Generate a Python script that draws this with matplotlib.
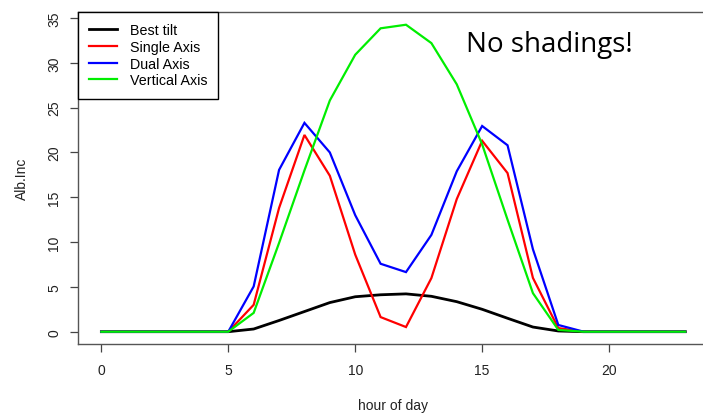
import matplotlib
matplotlib.use("Agg")
import matplotlib.pyplot as plt

hours = list(range(24))
best_tilt = [0, 0, 0, 0, 0, 0, 0.3, 1.25, 2.25, 3.25, 3.9, 4.12, 4.22, 3.95, 3.35, 2.5, 1.5, 0.52, 0.08, 0, 0, 0, 0, 0]
single_axis = [0, 0, 0, 0, 0, 0, 3.0, 13.8, 21.95, 17.4, 8.6, 1.63, 0.52, 5.98, 14.8, 21.3, 17.7, 6.0, 0.4, 0, 0, 0, 0, 0]
dual_axis = [0, 0, 0, 0, 0, 0, 5.05, 18.05, 23.3, 20.0, 13.0, 7.58, 6.65, 10.8, 17.9, 22.95, 20.8, 9.2, 0.75, 0, 0, 0, 0, 0]
vertical_axis = [0, 0, 0, 0, 0, 0, 2.1, 9.9, 18.0, 25.8, 30.9, 33.85, 34.25, 32.2, 27.6, 20.9, 12.5, 4.3, 0.2, 0, 0, 0, 0, 0]

series = [("Best tilt", best_tilt, "black", 2.0),
          ("Single Axis", single_axis, "#ff0000", 1.6),
          ("Dual Axis", dual_axis, "#0000ff", 1.6),
          ("Vertical Axis", vertical_axis, "#00ee00", 1.6)]

xticks = [0, 5, 10, 15, 20]
yticks = [0, 5, 10, 15, 20, 25, 30, 35]

plt.rcParams['font.family'] = ['Liberation Sans', 'DejaVu Sans']

W, H = 703, 414
fig = plt.figure(figsize=(W / 100, H / 100), dpi=100)
ax = fig.add_axes([78 / W, 1 - 345 / H, (708.6 - 78) / W, 332 / H])

for name, vals, col, lw in series:
    ax.plot(hours, vals, color=col, lw=lw, label=name, solid_joinstyle='miter')

ax.set_xlim(-0.92, 23.92)
ax.set_ylim(-1.372, 35.67)
ax.set_xticks(xticks)
ax.set_yticks(yticks)
ax.set_xticklabels([str(t) for t in xticks], fontsize=10, color='#222222')
ax.set_yticklabels([str(t) for t in yticks], fontsize=10, rotation=90, va='center', color='#222222')
ax.tick_params(axis='x', direction='out', length=6, width=0.9, pad=8, color='#444444')
ax.tick_params(axis='y', direction='out', length=6, width=0.9, pad=6, color='#444444')
for s in ax.spines.values():
    s.set_color('#555555')
    s.set_linewidth(1.0)

ax.set_xlabel("hour of day", fontsize=10, labelpad=15, color='#222222')
ax.set_ylabel("Alb.Inc", fontsize=10, labelpad=13, color='#222222')

leg = ax.legend(loc='upper left', bbox_to_anchor=(0, 1), borderaxespad=0,
                fancybox=False, edgecolor='black', fontsize=10.3,
                handlelength=1.9, handletextpad=0.9, labelspacing=0.18,
                borderpad=0.8, framealpha=1)
leg.get_frame().set_linewidth(1.0)

fig.text(549 / W, 1 - 45 / H, "No shadings!", fontsize=20, family='Open Sans',
         ha='center', va='center', color='black')

fig.savefig("out.png", dpi=100)
